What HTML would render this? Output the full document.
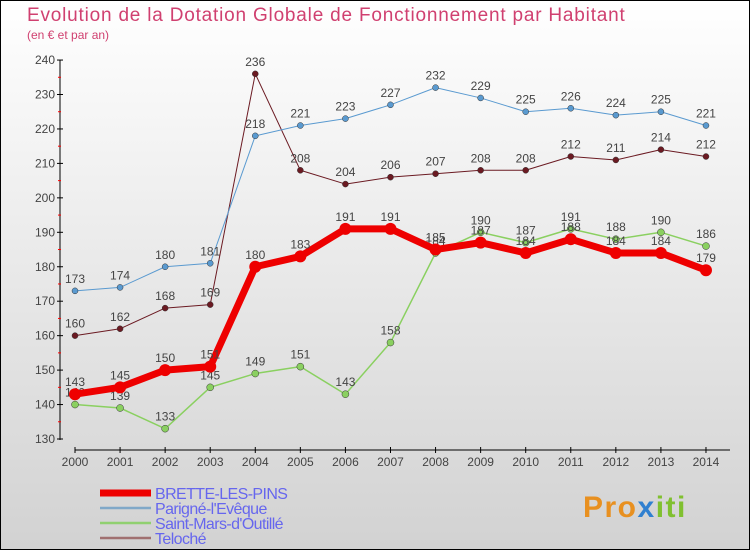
<!DOCTYPE html>
<html><head><meta charset="utf-8"><style>
html,body{margin:0;padding:0}
body{width:750px;height:550px;overflow:hidden;font-family:"Liberation Sans",sans-serif}
</style></head><body>
<svg id="c" width="750" height="550" xmlns="http://www.w3.org/2000/svg">
<defs><linearGradient id="bg" x1="0" y1="0" x2="0" y2="1"><stop offset="0" stop-color="#ffffff"/><stop offset="1" stop-color="#d2d2d2"/></linearGradient></defs>
<rect x="0.5" y="0.5" width="749" height="549" fill="url(#bg)" stroke="#000"/>
<text x="27" y="21" font-size="19" letter-spacing="0.8" fill="#d04070">Evolution de la Dotation Globale de Fonctionnement par Habitant</text>
<text x="27" y="39" font-size="12" fill="#d04070">(en € et par an)</text>
<g id="axes"></g><g id="series"></g><g id="legend"></g>
<text x="583" y="517" font-size="30" font-weight="bold" letter-spacing="1.5" fill="#e89020">Pro<tspan fill="#3080d0">x</tspan><tspan fill="#80c030">iti</tspan></text>
</svg>
<script>
const years=["2000","2001","2002","2003","2004","2005","2006","2007","2008","2009","2010","2011","2012","2013","2014"];
const yTicks=[130,140,150,160,170,180,190,200,210,220,230,240];
const brette=[143,145,150,151,180,183,191,191,185,187,184,188,184,184,179];
const parigne=[173,174,180,181,218,221,223,227,232,229,225,226,224,225,221];
const saintMars=[140,139,133,145,149,151,143,158,184,190,187,191,188,190,186];
const teloche=[160,162,168,169,236,208,204,206,207,208,208,212,211,214,212];
const NS="http://www.w3.org/2000/svg";
const X=i=>75+i*45.07, Y=v=>439-(v-130)*3.445;
function mk(t,a,p){const e=document.createElementNS(NS,t);for(const k in a)e.setAttribute(k,a[k]);p.appendChild(e);return e;}
const ax=document.getElementById('axes');
mk('line',{x1:60,y1:60,x2:60,y2:440,stroke:'#000'},ax);
mk('line',{x1:75,y1:450,x2:730,y2:450,stroke:'#000'},ax);
yTicks.forEach(v=>{const l=mk('line',{x1:57,y1:Y(v),x2:63,y2:Y(v),stroke:'#000'},ax);
 const t=mk('text',{x:55,y:Y(v)+4,'font-size':12,'text-anchor':'end',fill:'#444'},ax);t.textContent=v;
 if(v<240){const m=mk('line',{x1:58,y1:Y(v+5),x2:61,y2:Y(v+5),stroke:'#f00'},ax);}});
years.forEach((y,i)=>{const l=mk('line',{x1:X(i),y1:447,x2:X(i),y2:453,stroke:'#000'},ax);
 const t=mk('text',{x:X(i),y:466,'font-size':12,'text-anchor':'middle',fill:'#444'},ax);t.textContent=y;});
const sg=document.getElementById('series');
const series=[
 {name:'teloche',d:teloche,c:'#6b1a22',w:1,r:3,lbl:'Teloché',lc:'#a07070'},
 {name:'parigne',d:parigne,c:'#5a9ad0',w:1,r:3,lbl:"Parigné-l'Evêque",lc:'#80a8c8'},
 {name:'saint-mars',d:saintMars,c:'#8ad060',w:1.5,r:3.5,lbl:"Saint-Mars-d'Outillé",lc:'#90d070'},
 {name:'brette',d:brette,c:'#ee0000',w:7,r:6,lbl:'BRETTE-LES-PINS',lc:'#ee0000'}];
series.forEach(s=>{const g=mk('g',{},sg);
 const p=mk('polyline',{points:s.d.map((v,i)=>X(i)+','+Y(v)).join(' '),fill:'none',stroke:s.c,'stroke-width':s.w,'stroke-linejoin':'round'},g);
 s.d.forEach((v,i)=>{const c=mk('circle',{cx:X(i),cy:Y(v),r:s.r,fill:s.c,stroke:s.name==='brette'?'none':'#333','stroke-width':0.5},g);
  const t=mk('text',{x:X(i),y:Y(v)-8,'font-size':12,'text-anchor':'middle',fill:'#444'},g);t.textContent=v;});});
const lg=document.getElementById('legend');
[series[3],series[1],series[2],series[0]].forEach((s,i)=>{const y=493+i*15;
 const l=mk('line',{x1:100,y1:y,x2:151,y2:y,stroke:s.lc,'stroke-width':s.name==='brette'?7:2.5},lg);
 const t=mk('text',{x:155,y:y+6,'font-size':16,'letter-spacing':'-0.6',fill:'#6666ee'},lg);t.textContent=s.lbl;});
</script>
</body></html>
